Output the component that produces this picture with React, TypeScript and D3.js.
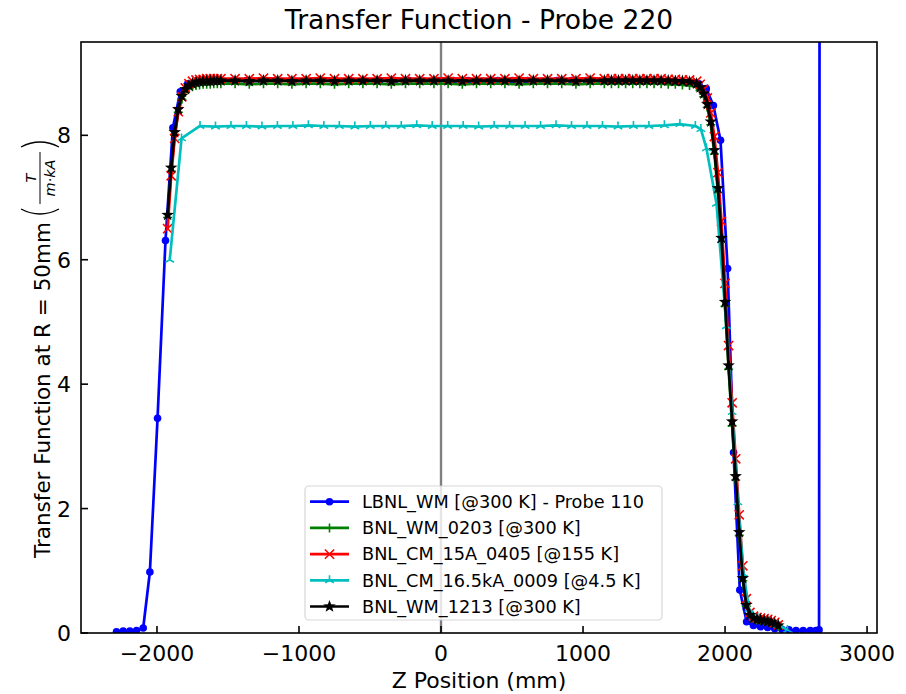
import React from 'react';
import * as d3 from 'd3';

// ---- data -------------------------------------------------------------
const SERIES_NAMES = [
  'LBNL_WM [@300 K] - Probe 110',
  'BNL_WM_0203 [@300 K]',
  'BNL_CM_15A_0405 [@155 K]',
  'BNL_CM_16.5kA_0009 [@4.5 K]',
  'BNL_WM_1213 [@300 K]',
];

// LBNL probe 110 scan positions (mm) and transfer function
const Z_LBNL = [
  -2285, -2238, -2191, -2144, -2097, -2050, -1996, -1940, -1888, -1836, -1784,
  -1680, -1576, -1472, -1368, -1264, -1160, -1056, -952, -848, -744, -640, -536,
  -432, -328, -224, -120, -16, 88, 192, 296, 400, 504, 608, 712, 816, 920, 1024,
  1128, 1232, 1336, 1440, 1544, 1648, 1752, 1816, 1868, 1918, 1968, 2018, 2060,
  2104, 2152, 2200, 2250, 2300, 2350, 2400, 2450, 2500, 2550, 2600, 2640, 2662,
  2690,
];
const TF_LBNL = [
  0.02, 0.03, 0.03, 0.04, 0.08, 0.98, 3.45, 6.31, 8.12, 8.7, 8.83,
  8.86, 8.87, 8.87, 8.88, 8.87, 8.88, 8.88, 8.87, 8.88, 8.88, 8.88, 8.87,
  8.88, 8.88, 8.88, 8.87, 8.88, 8.88, 8.88, 8.87, 8.88, 8.88, 8.88, 8.87, 8.88, 8.88, 8.88,
  8.87, 8.88, 8.88, 8.88, 8.87, 8.87, 8.86, 8.83, 8.75, 8.48, 7.92, 5.86, 2.9,
  0.69, 0.18, 0.12, 0.1, 0.09, 0.07, 0.06, 0.05, 0.04, 0.04, 0.04, 0.04, 0.05,
  80,
];

// BNL scan positions (mm), shared by the BNL_WM_0203, BNL_CM_15A_0405 and BNL_WM_1213 runs
const Z_BNL = [
  -1925, -1900, -1875, -1850, -1825, -1800, -1775, -1750, -1725, -1700, -1675,
  -1650, -1625, -1600, -1575, -1550,
  -1450, -1350, -1250, -1150, -1050, -950, -850, -750, -650, -550, -450, -350,
  -250, -150, -50, 50, 150, 250, 350, 450, 550, 650, 750, 850, 950, 1050, 1150,
  1200, 1250, 1300, 1350, 1400, 1450, 1500, 1550, 1600, 1650, 1700, 1750, 1800,
  1825, 1850, 1875, 1900, 1925, 1950, 1975, 2000, 2025, 2050, 2075, 2100, 2125,
  2150, 2175, 2200, 2225, 2250, 2275, 2300, 2325, 2350, 2375,
];
const TF_WM_0203 = [
  6.68, 7.42, 8.0, 8.37, 8.58, 8.69, 8.75, 8.78, 8.8, 8.81, 8.82,
  8.82, 8.82, 8.83, 8.83, 8.83,
  8.83, 8.82, 8.83, 8.83, 8.82, 8.83, 8.83, 8.82, 8.83, 8.83, 8.83, 8.82,
  8.83, 8.83, 8.83, 8.83, 8.82, 8.83, 8.83, 8.83, 8.82, 8.83, 8.83, 8.83, 8.82, 8.83, 8.83,
  8.83, 8.83, 8.83, 8.83, 8.83, 8.83, 8.83, 8.83, 8.82, 8.82, 8.81, 8.8, 8.78,
  8.72, 8.62, 8.45, 8.17, 7.7, 7.08, 6.28, 5.25, 4.24, 3.33, 2.46, 1.57, 0.84,
  0.43, 0.27, 0.23, 0.21, 0.2, 0.19, 0.18, 0.16, 0.14, 0.11,
];
const TF_CM_0405 = [
  6.5, 7.35, 7.95, 8.38, 8.62, 8.76, 8.83, 8.87, 8.89, 8.9, 8.9,
  8.91, 8.91, 8.91, 8.91, 8.91,
  8.91, 8.91, 8.92, 8.91, 8.91, 8.91, 8.92, 8.91, 8.91, 8.91, 8.91, 8.92,
  8.91, 8.91, 8.91, 8.92, 8.91, 8.91, 8.91, 8.91, 8.92, 8.91, 8.91, 8.91, 8.91, 8.92, 8.91,
  8.91, 8.91, 8.91, 8.91, 8.91, 8.91, 8.91, 8.91, 8.9, 8.9, 8.89, 8.89, 8.87,
  8.82, 8.74, 8.6, 8.36, 7.98, 7.4, 6.62, 5.62, 4.62, 3.7, 2.8, 1.9, 1.08,
  0.55, 0.33, 0.27, 0.25, 0.24, 0.23, 0.22, 0.2, 0.17, 0.13,
];
const TF_WM_1213 = [
  6.72, 7.48, 8.05, 8.42, 8.63, 8.74, 8.8, 8.83, 8.85, 8.86, 8.87,
  8.87, 8.87, 8.88, 8.88, 8.88,
  8.88, 8.87, 8.88, 8.88, 8.87, 8.88, 8.88, 8.87, 8.88, 8.88, 8.88, 8.87,
  8.88, 8.88, 8.88, 8.88, 8.87, 8.88, 8.88, 8.88, 8.87, 8.88, 8.88, 8.88, 8.87, 8.88, 8.88,
  8.88, 8.88, 8.88, 8.88, 8.88, 8.88, 8.88, 8.88, 8.88, 8.87, 8.87, 8.86, 8.83,
  8.77, 8.67, 8.5, 8.22, 7.76, 7.15, 6.35, 5.32, 4.3, 3.4, 2.52, 1.62, 0.88,
  0.45, 0.29, 0.24, 0.22, 0.21, 0.2, 0.19, 0.17, 0.15, 0.12,
];

// BNL cold (4.5 K) scan positions (mm) and transfer function
const Z_CM_0009 = [
  -1910, -1827,
  -1697, -1588, -1479, -1370, -1261, -1152, -1043, -934, -825, -716, -607, -498,
  -389, -280, -171, -62, 47, 156, 265, 374, 483, 592, 701, 810, 919, 1028, 1137,
  1246, 1355, 1464, 1573, 1682, 1791,
  1830, 1869, 1940, 2010, 2050, 2090, 2130, 2170, 2230, 2300, 2370, 2440,
];
const TF_CM_0009 = [
  6.0, 7.95,
  8.15, 8.14, 8.15, 8.15, 8.14, 8.15, 8.15, 8.16, 8.15, 8.15, 8.14, 8.15,
  8.15, 8.15, 8.16, 8.15, 8.15, 8.15, 8.14, 8.15, 8.15, 8.15, 8.15, 8.16, 8.15,
  8.15, 8.15, 8.14, 8.15, 8.15, 8.16, 8.18, 8.15,
  8.1, 7.79, 6.9, 4.93, 3.55, 2.1, 0.95, 0.38, 0.24, 0.19, 0.13, 0.05,
];

const X_TICKS = [-2000, -1000, 0, 1000, 2000, 3000];
const Y_TICKS = [0, 2, 4, 6, 8];

// ---- layout -------------------------------------------------------------
const WIDTH = 906;
const HEIGHT = 694;
const PLOT = { left: 81, right: 877, top: 42, bottom: 633 };
const X_DOMAIN: [number, number] = [-2535, 3070];
const Y_DOMAIN: [number, number] = [0, 9.5];
const FONT = '"DejaVu Sans", "Liberation Sans", sans-serif';

type MarkerKind = 'circle' | 'plus' | 'cross' | 'tri' | 'star';

const series = [
  { name: SERIES_NAMES[0], z: Z_LBNL, v: TF_LBNL, color: '#0000ff', marker: 'circle' as MarkerKind },
  { name: SERIES_NAMES[1], z: Z_BNL, v: TF_WM_0203, color: '#008000', marker: 'plus' as MarkerKind },
  { name: SERIES_NAMES[2], z: Z_BNL, v: TF_CM_0405, color: '#ff0000', marker: 'cross' as MarkerKind },
  { name: SERIES_NAMES[3], z: Z_CM_0009, v: TF_CM_0009, color: '#00bfbf', marker: 'tri' as MarkerKind },
  { name: SERIES_NAMES[4], z: Z_BNL, v: TF_WM_1213, color: '#000000', marker: 'star' as MarkerKind },
];

function starPath(R: number, r: number): string {
  const pts: string[] = [];
  for (let k = 0; k < 10; k++) {
    const a = (-90 + k * 36) * (Math.PI / 180);
    const rad = k % 2 === 0 ? R : r;
    pts.push(`${(rad * Math.cos(a)).toFixed(2)},${(rad * Math.sin(a)).toFixed(2)}`);
  }
  return `M${pts.join('L')}Z`;
}
const STAR = starPath(6.6, 2.7);

function Marker({ kind, cx, cy, color }: { kind: MarkerKind; cx: number; cy: number; color: string }) {
  const t = `translate(${cx},${cy})`;
  switch (kind) {
    case 'circle':
      return <circle cx={cx} cy={cy} r={3.8} fill={color} />;
    case 'plus':
      return <path transform={t} d="M-4.5,0H4.5M0,-4.5V4.5" stroke={color} strokeWidth={1.6} fill="none" />;
    case 'cross':
      return <path transform={t} d="M-4.6,-4.6L4.6,4.6M-4.6,4.6L4.6,-4.6" stroke={color} strokeWidth={1.6} fill="none" />;
    case 'tri':
      return <path transform={t} d="M0,0V-5M0,0L-4.3,2.5M0,0L4.3,2.5" stroke={color} strokeWidth={1.6} fill="none" />;
    case 'star':
      return <path transform={t} d={STAR} fill={color} />;
  }
}

export default function App() {
  const x = d3.scaleLinear().domain(X_DOMAIN).range([PLOT.left, PLOT.right]);
  const y = d3.scaleLinear().domain(Y_DOMAIN).range([PLOT.bottom, PLOT.top]);
  const line = d3
    .line<[number, number]>()
    .x((d) => x(d[0]))
    .y((d) => y(d[1]));

  const fmt = (n: number) => (n < 0 ? `\u2212${Math.abs(n)}` : `${n}`);

  const legendX = 305;
  const legendY = 486;
  const rowH = 26.2;

  return (
    <svg
      width={WIDTH}
      height={HEIGHT}
      style={{ position: 'absolute', left: 0, top: 0, background: '#fff' }}
      fontFamily={FONT}
    >
      <defs>
        <clipPath id="plot-area">
          <rect x={PLOT.left} y={PLOT.top} width={PLOT.right - PLOT.left} height={PLOT.bottom - PLOT.top} />
        </clipPath>
      </defs>
      <rect x={0} y={0} width={WIDTH} height={HEIGHT} fill="#fff" />

      {/* title */}
      <text x={(PLOT.left + PLOT.right) / 2} y={29} fontSize={26.5} textAnchor="middle" fill="#000">
        Transfer Function - Probe 220
      </text>

      {/* zero reference line */}
      <line x1={x(0)} x2={x(0)} y1={PLOT.top} y2={PLOT.bottom} stroke="#808080" strokeWidth={2.4} />

      {/* series */}
      <g clipPath="url(#plot-area)">
        {series.map((s) => {
          const pts = s.z.map((z, i) => [z, s.v[i]] as [number, number]);
          return (
            <g key={s.name}>
              <path d={line(pts) ?? ''} fill="none" stroke={s.color} strokeWidth={2.7} strokeLinejoin="round" />
              {pts.map((p, i) => (
                <Marker key={i} kind={s.marker} cx={x(p[0])} cy={y(p[1])} color={s.color} />
              ))}
            </g>
          );
        })}
      </g>

      {/* axes frame */}
      <rect
        x={PLOT.left}
        y={PLOT.top}
        width={PLOT.right - PLOT.left}
        height={PLOT.bottom - PLOT.top}
        fill="none"
        stroke="#000"
        strokeWidth={1.6}
      />

      {/* x ticks */}
      {X_TICKS.map((t) => (
        <g key={`x${t}`}>
          <line x1={x(t)} x2={x(t)} y1={PLOT.bottom} y2={PLOT.bottom - 7} stroke="#000" strokeWidth={1.6} />
          <text x={x(t)} y={661} fontSize={22} textAnchor="middle" fill="#000">
            {fmt(t)}
          </text>
        </g>
      ))}
      {/* y ticks */}
      {Y_TICKS.map((t) => (
        <g key={`y${t}`}>
          <line x1={PLOT.left} x2={PLOT.left + 7} y1={y(t)} y2={y(t)} stroke="#000" strokeWidth={1.6} />
          <text x={71} y={y(t) + 8} fontSize={22} textAnchor="end" fill="#000">
            {fmt(t)}
          </text>
        </g>
      ))}

      {/* axis labels */}
      <text x={(PLOT.left + PLOT.right) / 2} y={688} fontSize={22} textAnchor="middle" fill="#000">
        Z Position (mm)
      </text>
      <g transform="translate(50,558) rotate(-90)" fill="#000">
        <text x={0} y={0} fontSize={21.5}>
          Transfer Function at R = 50mm
        </text>
        <path d="M349,-29 Q339,-10 349,9" fill="none" stroke="#000" strokeWidth={1.4} />
        <text x={380} y={-14} fontSize={14.5} fontStyle="italic" textAnchor="middle">
          T
        </text>
        <line x1={354} x2={406} y1={-10} y2={-10} stroke="#000" strokeWidth={1} />
        <text x={380} y={5} fontSize={14.5} fontStyle="italic" textAnchor="middle">
          m·kA
        </text>
        <path d="M411,-29 Q421,-10 411,9" fill="none" stroke="#000" strokeWidth={1.4} />
      </g>

      {/* legend */}
      <g>
        <rect
          x={legendX}
          y={legendY}
          width={357}
          height={134}
          rx={4}
          fill="#fff"
          fillOpacity={0.8}
          stroke="#cccccc"
          strokeOpacity={0.8}
          strokeWidth={1.2}
        />
        {series.map((s, i) => {
          const cy = legendY + 15.7 + i * rowH;
          return (
            <g key={`lg${i}`}>
              <line x1={310} x2={349} y1={cy} y2={cy} stroke={s.color} strokeWidth={2.7} />
              <Marker kind={s.marker} cx={329.5} cy={cy} color={s.color} />
              <text x={362} y={cy + 6.3} fontSize={17.7} fill="#000">
                {s.name}
              </text>
            </g>
          );
        })}
      </g>
    </svg>
  );
}
